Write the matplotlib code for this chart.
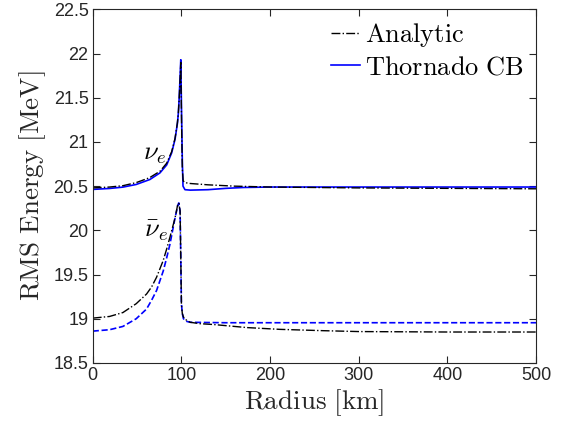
import matplotlib
matplotlib.use('Agg')
import matplotlib.pyplot as plt

plt.rcParams['mathtext.fontset'] = 'cm'

# nu_e
r_nue_an = [0, 19, 34, 49, 64, 76, 83.4, 89, 92.8, 95.5, 96.5, 97.4, 98, 98.5, 99, 99.3, 100.2,
            101, 102, 104, 110, 130, 160, 200, 300, 400, 500]
e_nue_an = [20.48, 20.49, 20.505, 20.54, 20.595, 20.67, 20.76, 20.89, 21.04, 21.22, 21.32, 21.47,
            21.6, 21.71, 21.83, 21.90, 21.2, 20.7, 20.56, 20.54, 20.53, 20.515, 20.50, 20.49,
            20.48, 20.475, 20.47]
r_nue_cb = [0, 19, 34, 49, 64.4, 75.8, 83.4, 89, 92.8, 95.5, 96.5, 97.4, 98, 98.5, 99, 99.3,
            100.2, 101, 101.8, 104, 110, 130, 150, 170, 200, 300, 400, 500]
e_nue_cb = [20.463, 20.474, 20.489, 20.519, 20.575, 20.65, 20.74, 20.876, 21.03, 21.21, 21.32,
            21.48, 21.62, 21.74, 21.86, 21.93, 21.3, 20.8, 20.5, 20.46, 20.455, 20.46, 20.475,
            20.485, 20.49, 20.49, 20.49, 20.49]

# nu_e bar
r_nueb_an = [0, 19, 34, 49, 60.7, 66.4, 72, 79.5, 83.4, 87, 92.8, 95.9, 97, 98.5, 99.3, 100,
             101, 102.3, 106, 110, 121, 136, 174, 211, 260, 300, 400, 500]
e_nueb_an = [19.007, 19.026, 19.07, 19.17, 19.28, 19.36, 19.47, 19.66, 19.79, 19.92, 20.14,
             20.295, 20.31, 20.22, 19.69, 19.17, 19.06, 19.02, 18.98, 18.96, 18.944, 18.935,
             18.90, 18.88, 18.865, 18.855, 18.85, 18.85]
r_nueb_cb = [0, 19, 34, 49, 60.7, 66.4, 72, 79.5, 83.4, 87, 92.8, 95.9, 97, 98.5, 99.3, 100,
             101, 102.3, 106, 110, 150, 500]
e_nueb_cb = [18.86, 18.876, 18.913, 19.0, 19.11, 19.21, 19.32, 19.54, 19.69, 19.84, 20.14,
             20.28, 20.31, 20.22, 19.69, 19.17, 19.06, 19.0, 18.97, 18.96, 18.955, 18.955]

gray = '#262626'

fig = plt.figure(figsize=(5.62, 4.25), dpi=100)
ax = fig.add_axes([0.165, 0.146, 0.789, 0.832])

ax.plot(r_nue_cb, e_nue_cb, '-', color='#0000ff', lw=1.2, label='Thornado CB')
ax.plot(r_nueb_cb, e_nueb_cb, '--', color='#0000ff', lw=1.2)
ax.plot(r_nue_an, e_nue_an, '-.', color='k', lw=1.0, label='Analytic')
ax.plot(r_nueb_an, e_nueb_an, '-.', color='k', lw=1.0)

ax.set_xlim(0, 500)
ax.set_ylim(18.5, 22.5)
ax.set_xticks([0, 100, 200, 300, 400, 500])
ax.set_yticks([18.5, 19, 19.5, 20, 20.5, 21, 21.5, 22, 22.5])
ax.set_yticklabels(['18.5', '19', '19.5', '20', '20.5', '21', '21.5', '22', '22.5'])
ax.tick_params(direction='in', top=True, right=True, length=5, width=0.8,
               labelsize=13, colors=gray, pad=3)
for lab in ax.get_xticklabels() + ax.get_yticklabels():
    lab.set_fontfamily('Liberation Sans')
for s in ax.spines.values():
    s.set_color(gray)
    s.set_linewidth(0.8)

ax.set_xlabel(r'$\mathrm{Radius\ [km]}$', fontsize=19.5, color=gray, labelpad=2)
ax.set_ylabel(r'$\mathrm{RMS\ Energy\ [MeV]}$', fontsize=19.5, color=gray, labelpad=4)

ax.text(70, 20.87, r'$\nu_e$', fontsize=19, ha='center', va='center')
ax.text(71, 20.0, r'$\bar{\nu}_e$', fontsize=19, ha='center', va='center')

h, l = ax.get_legend_handles_labels()
leg = ax.legend([h[1], h[0]], [r'$\mathrm{Analytic}$', r'$\mathrm{Thornado\ CB}$'],
                loc='upper right', frameon=False, fontsize=19, handlelength=1.1,
                handletextpad=0.2, borderaxespad=0.15, labelspacing=0.2,
                borderpad=0.3)

fig.savefig('out.png', dpi=100)
